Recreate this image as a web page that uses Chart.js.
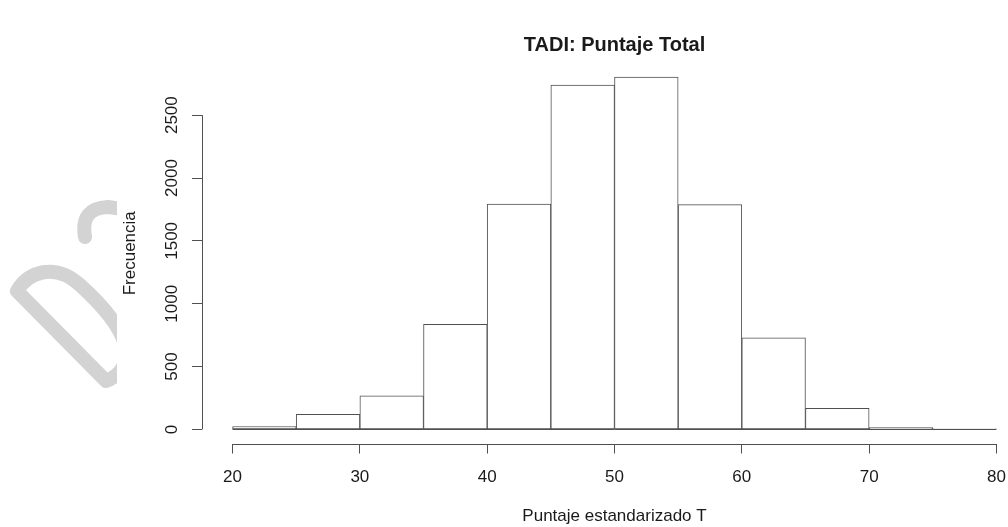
<!DOCTYPE html>
<html><head><meta charset="utf-8">
<script src="https://cdn.jsdelivr.net/npm/chart.js@4/dist/chart.umd.min.js"></script>
<style>
html,body{margin:0;padding:0;overflow:hidden;background:#fff;width:1008px;height:527px}
#wrap{position:absolute;left:0;top:0;width:1008px;height:527px;overflow:hidden}
canvas{display:block}
</style></head>
<body><div id="wrap"><canvas id="c" width="1040" height="527"></canvas></div>
<script>
// ---- data ----
const binEdges = [20,25,30,35,40,45,50,55,60,65,70,75,80];
const counts   = [22,120,268,836,1792,2740,2803,1788,729,167,14,3];
const xTicks   = [20,30,40,50,60,70,80];
const yTicks   = [0,500,1000,1500,2000,2500];
const titleText = 'TADI: Puntaje Total';
const xLabel = 'Puntaje estandarizado T';
const yLabel = 'Frecuencia';

const FONT = "'Liberation Sans', Arial, Helvetica, sans-serif";
const INK = '#1a1a1a';
const LINE = '#505050';

const barData = counts.map((c,i)=>({x:(binEdges[i]+binEdges[i+1])/2, y:c}));

const watermark = {
  id:'watermark',
  beforeDraw(chart){
    const ctx = chart.ctx;
    ctx.save();
    ctx.beginPath(); ctx.rect(0,0,117,527); ctx.clip();
    ctx.strokeStyle = '#d3d3d3';
    ctx.lineWidth = 14; ctx.lineJoin = 'round'; ctx.lineCap = 'round';
    ctx.beginPath();
    ctx.moveTo(106,381); ctx.lineTo(17,291);
    ctx.bezierCurveTo(28,272,55,262,80,285);
    ctx.bezierCurveTo(100,303,125,330,126,352);
    ctx.bezierCurveTo(127,368,116,377,106,381);
    ctx.closePath(); ctx.stroke();
    ctx.beginPath();
    ctx.moveTo(85,237); ctx.quadraticCurveTo(80,208,108,207); ctx.lineTo(130,210);
    ctx.stroke();
    ctx.restore();
  }
};

const axisLines = {
  id:'axisLines',
  afterDraw(chart){
    const ctx = chart.ctx, xs = chart.scales.x, ys = chart.scales.y;
    ctx.save();
    ctx.strokeStyle = LINE; ctx.lineWidth = 1;
    const xl = Math.round(chart.chartArea.left)+0.5;
    const yb = Math.round(chart.chartArea.bottom)+0.5;
    ctx.beginPath();
    ctx.moveTo(xl, ys.getPixelForValue(yTicks[0]));
    ctx.lineTo(xl, ys.getPixelForValue(yTicks[yTicks.length-1]));
    ctx.moveTo(xs.getPixelForValue(xTicks[0]), yb);
    ctx.lineTo(xs.getPixelForValue(xTicks[xTicks.length-1]), yb);
    const y0 = Math.round(ys.getPixelForValue(0))+0.5;
    ctx.moveTo(xs.getPixelForValue(binEdges[0]), y0);
    ctx.lineTo(xs.getPixelForValue(binEdges[binEdges.length-1]), y0);
    ctx.stroke();
    ctx.restore();
  }
};

new Chart(document.getElementById('c'), {
  type:'bar',
  data:{ datasets:[{
    data: barData,
    backgroundColor:'#ffffff',
    borderColor: LINE,
    borderWidth:1,
    borderSkipped:false,
    barPercentage:1,
    categoryPercentage:1
  }]},
  options:{
    responsive:false,
    animation:false,
    events:[],
    layout:{padding:{left:0,right:13,top:0,bottom:0}},
    plugins:{
      legend:{display:false},
      tooltip:{enabled:false},
      title:{display:true,text:titleText,fullSize:false,color:INK,
        font:{family:FONT,size:20,weight:'bold',lineHeight:1.2},
        padding:{top:33,bottom:6}}
    },
    scales:{
      x:{type:'linear',min:17.6,max:82.4,offset:false,
        afterBuildTicks(s){ s.ticks = xTicks.map(v=>({value:v})); },
        afterFit(s){ s.height = 83.5; },
        ticks:{color:INK,font:{family:FONT,size:17},padding:14,maxRotation:0,autoSkip:false,
          callback:v=>String(v)},
        grid:{display:true,offset:false,drawOnChartArea:false,drawTicks:true,tickLength:10,color:LINE,lineWidth:1},
        border:{display:false},
        title:{display:true,text:xLabel,color:INK,font:{family:FONT,size:17,lineHeight:1.2},padding:{top:0,bottom:0}}
      },
      y:{type:'linear',min:-112,max:2915,
        afterBuildTicks(s){ s.ticks = yTicks.map(v=>({value:v})); },
        afterFit(s){ s.width = 202; },
        ticks:{color:INK,font:{family:FONT,size:17},padding:1,minRotation:90,maxRotation:90,
          crossAlign:'center',autoSkip:false,callback:v=>String(v)},
        grid:{display:true,offset:false,drawOnChartArea:false,drawTicks:true,tickLength:10,color:LINE,lineWidth:1},
        border:{display:false},
        title:{display:true,text:yLabel,color:INK,font:{family:FONT,size:17,lineHeight:1.2},padding:{top:120,bottom:0}}
      }
    }
  },
  plugins:[watermark, axisLines]
});
</script>
</body></html>
